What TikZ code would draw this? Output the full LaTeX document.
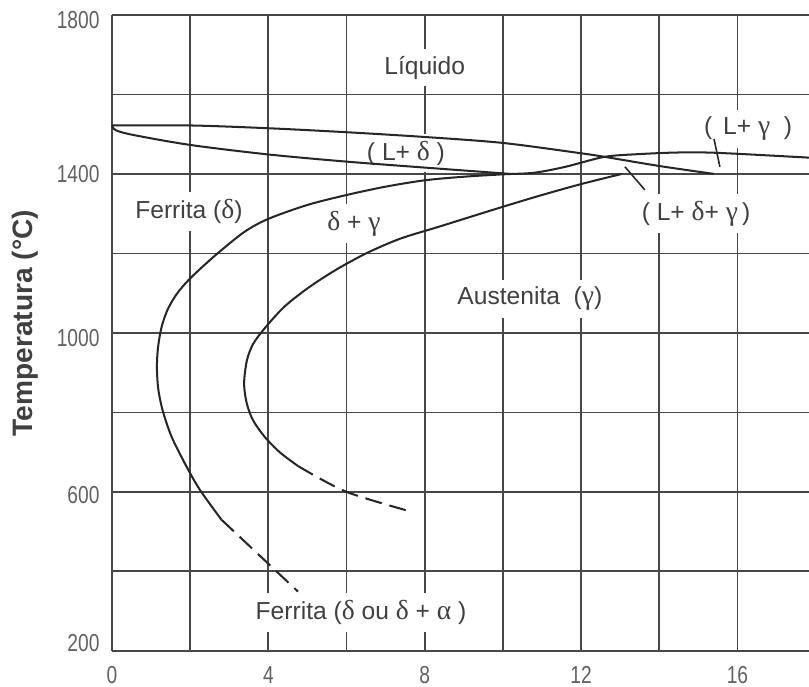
\documentclass[tikz,border=0pt]{standalone}
\usepackage{fontspec}
\setmainfont{Liberation Sans}
\newfontfamily\grk[Scale=1.12]{Liberation Serif}
\newcommand{\dlt}{{\grk δ}}
\newcommand{\gam}{{\grk γ}}
\newcommand{\alp}{{\grk α}}
\newcommand{\squeeze}[1]{\scalebox{0.78}[1]{#1}}

\begin{document}
\begin{tikzpicture}[x=0.782cm, y=0.00795cm,
  gridline/.style={line width=1pt, black!72},
  phaseline/.style={line width=1.15pt, black!85},
  pointer/.style={line width=0.9pt, black!85},
  phase/.style={fill=white, text=black!75, inner xsep=2pt, inner ysep=4pt, font=\fontsize{14}{16}\selectfont},
  ticky/.style={anchor=east, text=black!62, inner sep=0pt, font=\fontsize{14}{14}\selectfont},
  tickx/.style={text=black!62, inner sep=0pt, font=\fontsize{14}{14}\selectfont}]

\useasboundingbox (-2.864,109.4) rectangle (17.83,1837.7);

% Grid
\foreach \T in {200,400,...,1800}
  \draw[gridline] (0,\T)--(17.83,\T);
\foreach \x in {0,2,...,16}
  \draw[gridline] (\x,200)--(\x,1800);

% Axis numbers
\foreach \T/\p in {1800/1788,1400/1400,1000/988,600/592,200/220}
  \node[ticky] (y\T) at (-0.31,\p) {\squeeze{\T}};
\foreach \x in {0,4,...,16}
  \node[tickx] (x\x) at (\x,140) {\squeeze{\x}};

\node[rotate=90, text=black!75, font=\fontsize{16}{16}\selectfont\bfseries] (ylab) at (-2.23,1025) {Temperatura (°C)};

% Phase fields
\node[phase] (liq) at (8,1667) {Líquido};
\node[phase] (Lde) at (7.52,1452) {( L+ \dlt\ )};
\node[phase] (Lga) at (16.27,1514) {(\ \,L+ \gam\ \ )};
\node[phase] (Ldg) at (14.94,1300) {( L+ \dlt+ \gam\,)};
\node[phase] (fer) at (1.97,1305) {Ferrita (\dlt)};
\node[phase] (dg) at (6.19,1275) {\dlt\ + \gam};
\node[phase] (aus) at (10.69,1086) {Austenita\ \ (\gam)};
\node[phase] (feral) at (6.37,296) {Ferrita (\dlt\ ou \dlt\ + \alp\ )};

% Liquidus
\draw[phaseline] plot[smooth] coordinates {(0,1522) (2,1522) (4,1515) (6,1505) (8,1493) (10,1478) (12,1452) (12.6,1443) (14,1420) (15.4,1400)};

% Solidus of delta
\draw[phaseline] plot[smooth] coordinates {(0,1522) (0.1,1510) (0.55,1498) (2,1473) (4,1449) (6,1431) (8,1416) (10.2,1400)};

% delta / delta+gamma
\draw[phaseline] plot[smooth] coordinates {(17.83,1441) (15.5,1453) (14.5,1454) (13.5,1450) (12.6,1443) (11.6,1418) (10.8,1403) (10,1399) (9,1393) (8,1384) (7,1368) (6,1347) (5,1322) (4,1287) (3.4,1255) (2.76,1205) (2.3,1165) (1.94,1131) (1.65,1097) (1.42,1058) (1.27,1015) (1.18,965) (1.15,915) (1.18,862) (1.27,815) (1.4,772) (1.56,731) (1.9,665) (2.25,605) (2.8,530)};
\draw[phaseline, dash pattern=on 0.34cm off 0.16cm] (2.8,530)--(4.76,349);

% gamma / delta+gamma
\draw[phaseline] plot[smooth] coordinates {(13.04,1400) (12.02,1375) (11,1347) (9.92,1315) (8.39,1268) (7.37,1237) (6.5,1200) (5.7,1157) (5,1112) (4.4,1065) (3.91,1012) (3.61,972) (3.45,930) (3.38,872) (3.45,822) (3.61,780) (3.91,738) (4.3,699) (4.76,665)};
\draw[phaseline, dash pattern=on 0.34cm off 0.16cm] plot[smooth] coordinates {(4.76,665) (6,600) (7.7,549)};

% Pointers
\coordinate (aLdg) at (13.12,1418);
\coordinate (bLdg) at (13.63,1360);
\draw[pointer] (aLdg)--(bLdg);
\coordinate (aLga) at (15.4,1488);
\coordinate (bLga) at (15.55,1418);
\draw[pointer] (aLga)--(bLga);

\end{tikzpicture}
\end{document}
